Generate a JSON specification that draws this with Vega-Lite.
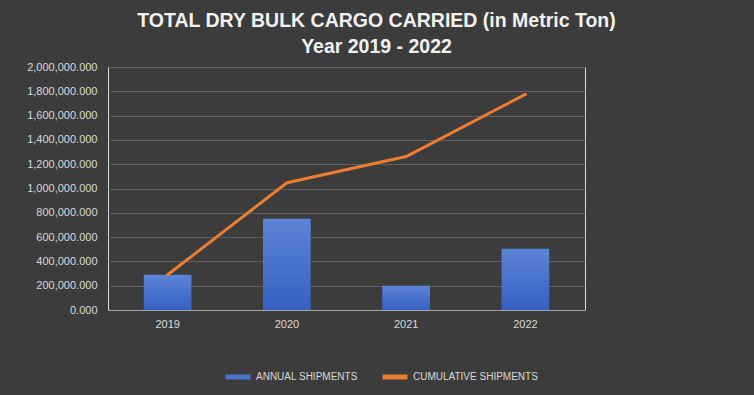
{
  "$schema": "https://vega.github.io/schema/vega-lite/v6.json",
  "width": 477,
  "height": 243,
  "autosize": {"type": "none"},
  "padding": {"left": 108, "top": 67, "right": 169, "bottom": 85},
  "background": "#3c3c3c",
  "title": {
    "text": ["TOTAL DRY BULK CARGO CARRIED (in Metric Ton)", "Year 2019 - 2022"],
    "anchor": "middle",
    "dx": 30,
    "offset": 4,
    "fontSize": 19.5,
    "lineHeight": 26,
    "font": "Liberation Sans",
    "fontWeight": "bold",
    "color": "#f2f2f2"
  },
  "data": {
    "values": [
      {"year": "2019", "series": "ANNUAL SHIPMENTS", "value": 290000},
      {"year": "2020", "series": "ANNUAL SHIPMENTS", "value": 752000},
      {"year": "2021", "series": "ANNUAL SHIPMENTS", "value": 200000},
      {"year": "2022", "series": "ANNUAL SHIPMENTS", "value": 505000},
      {"year": "2019", "series": "CUMULATIVE SHIPMENTS", "value": 290000},
      {"year": "2020", "series": "CUMULATIVE SHIPMENTS", "value": 1047000},
      {"year": "2021", "series": "CUMULATIVE SHIPMENTS", "value": 1263000},
      {"year": "2022", "series": "CUMULATIVE SHIPMENTS", "value": 1775000}
    ]
  },
  "encoding": {
    "x": {
      "field": "year",
      "type": "nominal",
      "title": null,
      "scale": {"paddingInner": 0.6, "paddingOuter": 0.3},
      "axis": {
        "labelAngle": 0,
        "labelColor": "#d9d9d9",
        "labelFontSize": 11,
        "labelFont": "Liberation Sans",
        "labelPadding": 8,
        "ticks": false,
        "domainColor": "#a6a6a6",
        "domainWidth": 1,
        "grid": false
      }
    },
    "y": {
      "field": "value",
      "type": "quantitative",
      "title": null,
      "scale": {"domain": [0, 2000000]},
      "axis": {
        "values": [0, 200000, 400000, 600000, 800000, 1000000, 1200000, 1400000, 1600000, 1800000, 2000000],
        "format": ",.3f",
        "labelColor": "#d9d9d9",
        "labelFontSize": 11,
        "labelFont": "Liberation Sans",
        "labelPadding": 11,
        "ticks": false,
        "domain": false,
        "grid": true,
        "gridColor": "#606060",
        "gridWidth": 1
      }
    }
  },
  "layer": [
    {
      "transform": [{"filter": "datum.series === 'ANNUAL SHIPMENTS'"}],
      "mark": {
        "type": "bar",
        "color": {
          "gradient": "linear",
          "x1": 0, "y1": 0, "x2": 0, "y2": 1,
          "stops": [
            {"offset": 0, "color": "#5d85d6"},
            {"offset": 1, "color": "#3560c2"}
          ]
        }
      }
    },
    {
      "transform": [{"filter": "datum.series === 'CUMULATIVE SHIPMENTS'"}],
      "mark": {"type": "line", "strokeWidth": 3, "strokeCap": "round", "strokeJoin": "round"},
      "encoding": {
        "color": {
          "field": "series",
          "type": "nominal",
          "scale": {
            "domain": ["ANNUAL SHIPMENTS", "CUMULATIVE SHIPMENTS"],
            "range": ["#4a74cc", "#ed7d31"]
          },
          "legend": {
            "title": null,
            "orient": "none",
            "direction": "horizontal",
            "legendX": 115,
            "legendY": 295,
            "symbolType": "stroke",
            "symbolStrokeWidth": 5,
            "symbolSize": 620,
            "labelColor": "#d9d9d9",
            "labelFontSize": 10,
            "labelFont": "Liberation Sans",
            "labelOffset": 3,
            "columnPadding": 14
          }
        }
      }
    }
  ]
}
